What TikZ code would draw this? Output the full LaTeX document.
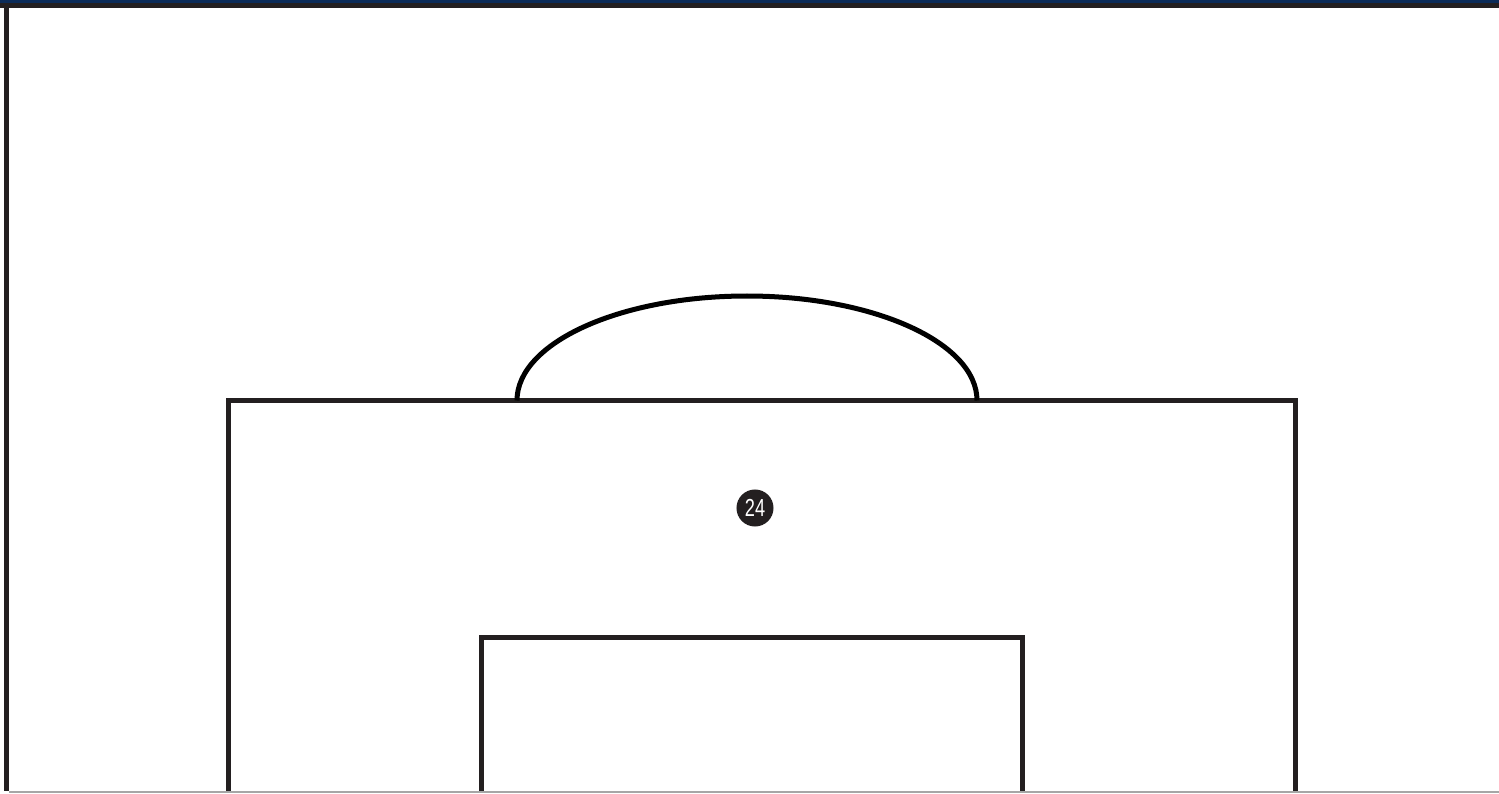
\documentclass[tikz,border=0pt]{standalone}
\usepackage{fontspec}
\usepackage{tikz}
\usetikzlibrary{positioning}
\newfontfamily\numfont[FakeStretch=0.74]{Liberation Sans}
\definecolor{pitchline}{HTML}{231F20}
\definecolor{topnavy}{HTML}{0B2B58}

\begin{document}
\begin{tikzpicture}[x=0.01cm, y=0.01cm,
  line/.style={line width=0.05cm, pitchline},
  playerdot/.style={circle, fill=pitchline, minimum size=0.37cm, inner sep=0pt,
    text=white, font=\numfont\fontsize{7}{8}\selectfont}]

\useasboundingbox (0,0) rectangle (1499,793);

% ---- header strip ----------------------------------------------------------
\fill[topnavy]    (0,790) rectangle (1499,793);
\fill[pitchline]  (0,785) rectangle (1499,790);

% ---- touch line / bottom edge ----------------------------------------------
\fill[pitchline] (4,2) rectangle (9,785);
\fill[gray!70]   (9,0) rectangle (1499,2);

% ---- penalty area ----------------------------------------------------------
\draw[line] (228.5,2) -- (228.5,392.5) -- (1295.5,392.5) -- (1295.5,2);

% ---- goal area -------------------------------------------------------------
\draw[line] (481,2) -- (481,156) -- (1022.5,156) -- (1022.5,2);

% ---- penalty arc -----------------------------------------------------------
\draw[line width=0.05cm, black] (517,392.5) arc[start angle=180, end angle=0,
  x radius=230, y radius=104.5];

% ---- player ----------------------------------------------------------------
\node[playerdot] (p24) at (755,285) {24};

\end{tikzpicture}
\end{document}
